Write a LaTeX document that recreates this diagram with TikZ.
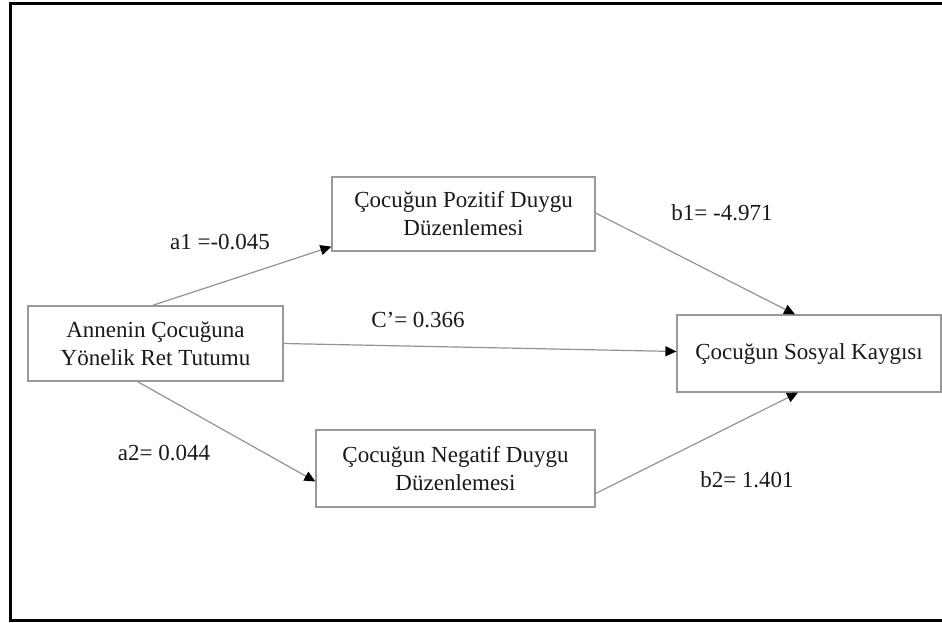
\documentclass[tikz,border=0pt]{standalone}
\usepackage{fontspec}
\setmainfont{Liberation Serif}
\usetikzlibrary{arrows.meta}
\tikzset{
  var/.style={draw=gray!80, line width=1.2pt, align=center, inner sep=0pt,
    font=\fontsize{23}{28}\selectfont, text=black!90},
  path/.style={draw=gray!85, line width=1.2pt, -{Triangle[length=11pt,width=10pt,color=black]}},
  coef/.style={font=\fontsize{23}{28}\selectfont, text=black!90, inner sep=0pt}
}
\begin{document}
\begin{tikzpicture}[x=1pt,y=-1pt]
\useasboundingbox (0,0) rectangle (942,623);
\clip (0,0) rectangle (942,623);
\draw[line width=3pt] (960,4) -- (10.5,4) -- (10.5,620) -- (960,620);
\node[var, minimum width=255pt, minimum height=75pt] (A) at (155.5,343.5) {Annenin Çocuğuna\\Yönelik Ret Tutumu};
\node[var, minimum width=263pt, minimum height=74pt] (P) at (463.5,214) {Çocuğun Pozitif Duygu\\Düzenlemesi};
\node[var, minimum width=279pt, minimum height=77pt] (N) at (455.5,468.5) {Çocuğun Negatif Duygu\\Düzenlemesi};
\node[var, minimum width=264pt, minimum height=77pt] (S) at (809,353.5) {Çocuğun Sosyal Kaygısı};
\path[path] ([xshift=-3pt]A.north) -- ([yshift=5pt]P.south west);
\path[path] (A.east) -- ([yshift=2pt]S.west);
\path[path] ([xshift=-18pt]A.south) -- ([yshift=-13pt]N.west);
\path[path] ([yshift=1pt]P.east) -- ([xshift=-14pt]S.north);
\path[path] ([yshift=-25pt]N.east) -- ([xshift=-11pt]S.south);
\node[coef] (a1) at (220,242) {a1 =-0.045};
\node[coef] (c) at (418,320) {C’= 0.366};
\node[coef] (b1) at (722,213) {b1= -4.971};
\node[coef] (a2) at (164,453) {a2= 0.044};
\node[coef] (b2) at (747,480) {b2= 1.401};
\end{tikzpicture}
\end{document}
